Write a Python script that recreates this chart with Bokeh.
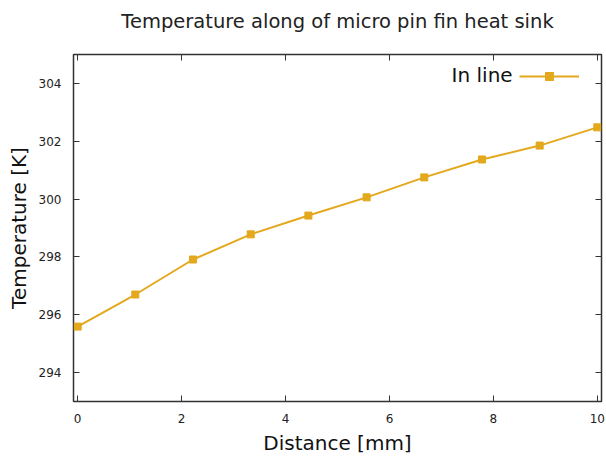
from bokeh.plotting import figure
from bokeh.models import (LinearAxis, Range1d, FixedTicker, Legend, LegendItem,
                          Label, ColumnDataSource)
from bokeh.embed import file_html
from bokeh.resources import INLINE

distance = [0.0, 1.11, 2.22, 3.33, 4.44, 5.56, 6.67, 7.78, 8.89, 10.0]
temperature = [295.59, 296.70, 297.91, 298.78, 299.43, 300.06, 300.75, 301.37, 301.85, 302.48]
series_name = "In line"
title_text = "Temperature along of micro pin fin heat sink"
x_ticks = [0, 2, 4, 6, 8, 10]
y_ticks = [294, 296, 298, 300, 302, 304]

FONT = "DejaVu Sans"
COLOR = "#E3A81C"

p = figure(width=606, height=463, output_backend="svg", toolbar_location=None,
           x_range=Range1d(-0.08, 10.08), y_range=Range1d(293, 305),
           min_border_left=73, min_border_right=5, min_border_top=54, min_border_bottom=62)

p.xgrid.visible = False
p.ygrid.visible = False
p.outline_line_color = "#333333"
p.outline_line_width = 1.5

src = ColumnDataSource(dict(x=distance, y=temperature))
ln = p.line("x", "y", source=src, line_color=COLOR, line_width=2)
sc = p.scatter("x", "y", source=src, marker="square_x", size=7,
               fill_color=COLOR, line_color=COLOR, line_width=1)

for ax in (p.xaxis[0], p.yaxis[0]):
    ax.axis_line_color = None
    ax.major_tick_in = 6
    ax.major_tick_out = 0
    ax.major_tick_line_color = "#333333"
    ax.minor_tick_line_color = None
    ax.major_label_text_font = FONT
    ax.major_label_text_font_size = "12px"
    ax.major_label_text_color = "#222222"
    ax.axis_label_text_font = FONT
    ax.axis_label_text_font_size = "20px"
    ax.axis_label_text_font_style = "normal"
    ax.axis_label_text_color = "#111111"

p.xaxis.ticker = FixedTicker(ticks=x_ticks)
p.yaxis.ticker = FixedTicker(ticks=y_ticks)
p.xaxis.axis_label = "Distance [mm]"
p.yaxis.axis_label = "Temperature [K]"
p.xaxis.major_label_standoff = 12
p.yaxis.major_label_standoff = 12
p.xaxis.axis_label_standoff = 5
p.yaxis.axis_label_standoff = 5

top = LinearAxis(ticker=FixedTicker(ticks=x_ticks),
                 major_label_overrides={t: "" for t in x_ticks},
                 major_label_standoff=0,
                 axis_label=title_text, axis_label_standoff=22,
                 axis_label_text_font=FONT, axis_label_text_font_size="19.5px",
                 axis_label_text_font_style="normal", axis_label_text_color="#222222")
right = LinearAxis(ticker=FixedTicker(ticks=y_ticks),
                   major_label_overrides={t: "" for t in y_ticks},
                   major_label_standoff=0)
for ax in (top, right):
    ax.axis_line_color = None
    ax.major_tick_in = 6
    ax.major_tick_out = 0
    ax.major_tick_line_color = "#333333"
    ax.minor_tick_line_color = None
p.add_layout(top, "above")
p.add_layout(right, "right")

legend = Legend(items=[LegendItem(label=" ", renderers=[ln, sc])],
                location=(446, 315), glyph_width=60, glyph_height=20,
                label_width=0, label_standoff=0, border_line_color=None,
                background_fill_alpha=0, padding=4, spacing=0, margin=0)
p.add_layout(legend)

p.add_layout(Label(x=8.37, y=304.3, text=series_name,
                   text_font=FONT, text_font_size="20px", text_color="#111111",
                   text_align="right", text_baseline="middle"))

open("out.html", "w").write(file_html(p, INLINE))
